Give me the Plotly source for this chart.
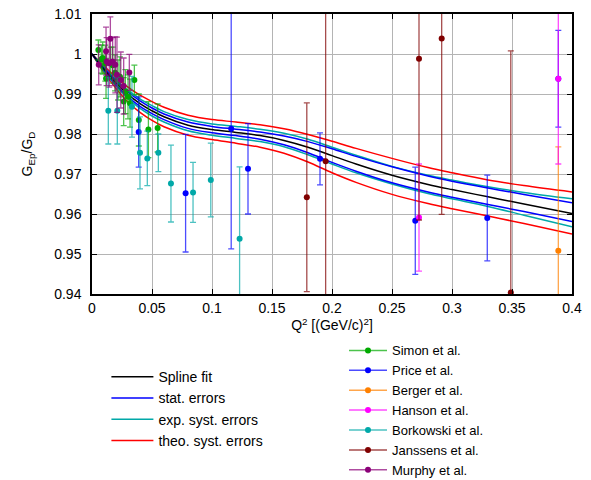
import plotly.graph_objects as go

# ---------------- data ----------------
fit_q2 = [0, 0.01, 0.02, 0.03, 0.04, 0.05, 0.06, 0.08, 0.1, 0.12, 0.14, 0.16,
          0.18, 0.2, 0.22, 0.25, 0.28, 0.3, 0.33, 0.36, 0.4]
spline_fit = [1.0, 0.9962, 0.9928, 0.9899, 0.9876, 0.9858, 0.9843, 0.9822, 0.9811, 0.9804, 0.9796,
              0.9784, 0.9767, 0.9746, 0.9725, 0.9697, 0.9674, 0.9661, 0.9643, 0.9625, 0.9601]
stat_up = [1.0, 0.9965, 0.9933, 0.9905, 0.9883, 0.9865, 0.9850, 0.9830, 0.9819, 0.9812, 0.9805,
           0.9795, 0.9781, 0.9763, 0.9744, 0.9718, 0.9695, 0.9682, 0.9665, 0.9649, 0.9628]
stat_lo = [1.0, 0.9959, 0.9923, 0.9893, 0.9869, 0.9851, 0.9836, 0.9814, 0.9803, 0.9796, 0.9787,
           0.9773, 0.9753, 0.9729, 0.9707, 0.9678, 0.9655, 0.9642, 0.9624, 0.9606, 0.9581]
exp_up = [1.0, 0.9967, 0.9936, 0.9909, 0.9888, 0.9871, 0.9856, 0.9836, 0.9825, 0.9819, 0.9812,
          0.9802, 0.9787, 0.9767, 0.9747, 0.9719, 0.9697, 0.9685, 0.9668, 0.9654, 0.9638]
exp_lo = [1.0, 0.9957, 0.9920, 0.9889, 0.9864, 0.9845, 0.9830, 0.9808, 0.9797, 0.9789, 0.9781,
          0.9768, 0.9748, 0.9725, 0.9703, 0.9675, 0.9651, 0.9638, 0.9619, 0.9597, 0.9568]
theo_up = [1.0, 0.9970, 0.9942, 0.9917, 0.9897, 0.9881, 0.9867, 0.9847, 0.9836, 0.9830, 0.9823,
           0.9813, 0.9799, 0.9782, 0.9764, 0.9739, 0.9716, 0.9703, 0.9685, 0.9671, 0.9655]
theo_lo = [1.0, 0.9954, 0.9914, 0.9880, 0.9854, 0.9834, 0.9818, 0.9797, 0.9786, 0.9777, 0.9767,
           0.9752, 0.9730, 0.9703, 0.9679, 0.9649, 0.9626, 0.9613, 0.9595, 0.9576, 0.9550]

simon_q2 = [0.0053, 0.0078, 0.0089, 0.0111, 0.0117, 0.0156, 0.0172, 0.0192, 0.0217, 0.0233,
            0.0264, 0.0278, 0.0300, 0.0317, 0.0353, 0.0390, 0.0470, 0.0547]
simon_g = [1.0010, 0.9987, 0.9990, 0.9977, 0.9939, 0.9977, 0.9972, 0.9953, 0.9935, 0.9943,
           0.9881, 0.9906, 0.9893, 0.9877, 0.9935, 0.9835, 0.9811, 0.9815]
simon_err = [0.0025, 0.0035, 0.0040, 0.0045, 0.0050, 0.0040, 0.0045, 0.0045, 0.0050, 0.0050,
             0.0060, 0.0055, 0.0055, 0.0060, 0.0037, 0.0065, 0.0070, 0.0060]

price_q2 = [0.0389, 0.0780, 0.1160, 0.1300, 0.1900, 0.2694, 0.3294, 0.3886]
price_g = [0.9805, 0.9652, 0.9813, 0.9713, 0.9738, 0.9583, 0.9590, 0.9938]
price_err = [0.0088, 0.0147, 0.0300, 0.0113, 0.0065, 0.0134, 0.0107, 0.0121]

berger_q2 = [0.3886]
berger_g = [0.9508]
berger_err = [0.0260]

hanson_q2 = [0.2725, 0.3886]
hanson_g = [0.9591, 0.9938]
hanson_err = [0.0134, 0.0213]

borkowski_q2 = [0.0136, 0.0211, 0.0333, 0.0400, 0.0461, 0.0553, 0.0658, 0.0842, 0.0990, 0.1230]
borkowski_g = [0.9858, 0.9858, 0.9868, 0.9753, 0.9739, 0.9753, 0.9676, 0.9654, 0.9685, 0.9538]
borkowski_err = [0.0083, 0.0083, 0.0076, 0.0090, 0.0068, 0.0047, 0.0096, 0.0075, 0.0092, 0.0180]

janssens_q2 = [0.1790, 0.1947, 0.2725, 0.2914, 0.3490]
janssens_g = [0.9642, 0.9732, 0.9988, 1.0039, 0.9404]
janssens_err = [0.0236, 0.0500, 0.0403, 0.0440, 0.0604]

murphy_q2 = [0.0056, 0.0117, 0.0122, 0.0144, 0.0153, 0.0172, 0.0194, 0.0208, 0.0240, 0.0264, 0.0311]
murphy_g = [0.9973, 1.0007, 0.9981, 0.9977, 1.0038, 0.9981, 0.9973, 0.9948, 0.9935, 0.9920, 0.9954]
murphy_err = [0.0050, 0.0060, 0.0060, 0.0060, 0.0055, 0.0060, 0.0070, 0.0094, 0.0070, 0.0070, 0.0045]

x_ticks = [0, 0.05, 0.1, 0.15, 0.2, 0.25, 0.3, 0.35, 0.4]
x_tick_text = ["0", "0.05", "0.1", "0.15", "0.2", "0.25", "0.3", "0.35", "0.4"]
y_ticks = [0.94, 0.95, 0.96, 0.97, 0.98, 0.99, 1.0, 1.01]
y_tick_text = ["0.94", "0.95", "0.96", "0.97", "0.98", "0.99", "1", "1.01"]

# ---------------- figure ----------------
FONT = "Liberation Sans, Arial, sans-serif"
fig = go.Figure()

curves = [
    ("theo. syst. errors", [theo_up, theo_lo], "#ff0000", 4),
    ("exp. syst. errors", [exp_up, exp_lo], "#00a8a8", 3),
    ("stat. errors", [stat_up, stat_lo], "#0000ff", 2),
    ("Spline fit", [spline_fit], "#000000", 1),
]
for name, ys, color, rank in curves:
    for i, y in enumerate(ys):
        fig.add_trace(go.Scatter(
            x=fit_q2, y=y, mode="lines", line=dict(color=color, width=1.5, shape="spline"),
            name=name, showlegend=(i == 0), legend="legend", legendrank=rank,
            hoverinfo="skip"))

datasets = [
    ("Simon et al.", simon_q2, simon_g, simon_err, "#00aa00", "rgba(0,170,0,0.7)"),
    ("Price et al.", price_q2, price_g, price_err, "#0000ff", "rgba(0,0,255,0.7)"),
    ("Berger et al.", berger_q2, berger_g, berger_err, "#ff8000", "rgba(255,128,0,0.7)"),
    ("Hanson et al.", hanson_q2, hanson_g, hanson_err, "#ff00ff", "rgba(255,0,255,0.7)"),
    ("Borkowski et al.", borkowski_q2, borkowski_g, borkowski_err, "#00a8a8", "rgba(0,168,168,0.7)"),
    ("Janssens et al.", janssens_q2, janssens_g, janssens_err, "#800000", "rgba(128,0,0,0.7)"),
    ("Murphy et al.", murphy_q2, murphy_g, murphy_err, "#8b0078", "rgba(139,0,120,0.7)"),
]
for k, (name, xs, ys, es, mcol, ecol) in enumerate(datasets):
    fig.add_trace(go.Scatter(
        x=xs, y=ys, mode="markers", name=name, showlegend=False,
        marker=dict(color=mcol, size=6),
        error_y=dict(type="data", array=es, visible=True, color=ecol, thickness=1.3, width=3)))
    fig.add_trace(go.Scatter(
        x=[None], y=[None], mode="lines+markers", name=name, legend="legend2",
        legendrank=k + 1, line=dict(color=ecol, width=1.5), marker=dict(color=mcol, size=6)))

fig.update_layout(
    width=591, height=480,
    margin=dict(l=92, r=19, t=14, b=186, autoexpand=False),
    plot_bgcolor="white", paper_bgcolor="white",
    font=dict(family=FONT, size=14, color="#000000"),
    showlegend=True,
    legend=dict(x=0.03, y=-0.24, xanchor="left", yanchor="top", xref="paper", yref="paper",
                font=dict(size=14), bgcolor="rgba(0,0,0,0)", itemwidth=42,
                traceorder="normal", tracegroupgap=0),
    legend2=dict(x=0.525, y=-0.148, xanchor="left", yanchor="top", xref="paper", yref="paper",
                 font=dict(size=13), bgcolor="rgba(0,0,0,0)", itemwidth=38,
                 traceorder="normal", tracegroupgap=0),
)
fig.update_xaxes(
    range=[0, 0.4], tickvals=x_ticks, ticktext=x_tick_text,
    showgrid=True, gridcolor="#b4b4b4", gridwidth=1,
    showline=True, linecolor="#000000", linewidth=1.5, mirror="ticks",
    ticks="inside", ticklen=5, tickcolor="#000000", zeroline=False,
    tickfont=dict(size=14), ticklabeloverflow="allow",
    title=dict(text="Q<sup>2</sup> [(GeV/c)<sup>2</sup>]", font=dict(size=14), standoff=3),
)
fig.update_yaxes(
    range=[0.94, 1.01], tickvals=y_ticks, ticktext=y_tick_text,
    showgrid=True, gridcolor="#b4b4b4", gridwidth=1,
    showline=True, linecolor="#000000", linewidth=1.5, mirror="ticks",
    ticks="inside", ticklen=5, tickcolor="#000000", zeroline=False,
    tickfont=dict(size=14), ticklabelstandoff=6, ticklabeloverflow="allow",
    title=dict(text="G<sub>Ep</sub>/G<sub>D</sub>", font=dict(size=14), standoff=18),
)

fig.write_html("out.html", config={"displayModeBar": False},
               post_script="document.body.style.margin='0px';")
